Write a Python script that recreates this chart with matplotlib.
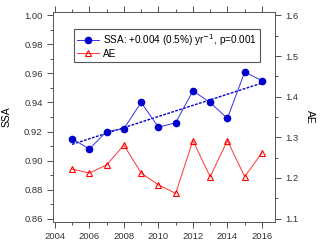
import numpy as np
import matplotlib.pyplot as plt
from matplotlib.ticker import MultipleLocator

years = [2005, 2006, 2007, 2008, 2009, 2010, 2011, 2012, 2013, 2014, 2015, 2016]
ssa = [0.915, 0.908, 0.920, 0.922, 0.940, 0.923, 0.926, 0.948, 0.940, 0.929, 0.961, 0.955]
ae = [1.222, 1.212, 1.232, 1.281, 1.212, 1.183, 1.162, 1.292, 1.203, 1.292, 1.203, 1.262]

plt.rcParams['font.family'] = ['Liberation Sans', 'DejaVu Sans']
plt.rcParams['font.size'] = 6.8

fig = plt.figure(figsize=(3.2, 2.45), dpi=100)
ax = fig.add_axes([0.166, 0.094, 0.693, 0.857])
ax2 = ax.twinx()

# trend line for SSA
slope, icpt = np.polyfit(years, ssa, 1)
fit_x = np.array([years[0], years[-1]])
ax.plot(fit_x, slope * fit_x + icpt, color='#0000cc', linestyle=(0, (2, 1)), lw=1.0)

l1, = ax.plot(years, ssa, color='#3333ee', lw=0.7, marker='o', ms=4.5,
              mfc='#0000cc', mec='#0000cc')
l2, = ax2.plot(years, ae, color='#ff3333', lw=0.7, marker='^', ms=5,
               mfc='none', mec='#ff0000', mew=0.8)

ax.set_xlim(2003.9, 2016.75)
ax.set_ylim(0.8577, 1.0023)
ax2.set_ylim(1.0917, 1.6083)

ax.xaxis.set_major_locator(MultipleLocator(2))
ax.xaxis.set_minor_locator(MultipleLocator(1))
ax.yaxis.set_major_locator(MultipleLocator(0.02))
ax.yaxis.set_minor_locator(MultipleLocator(0.01))
ax2.yaxis.set_major_locator(MultipleLocator(0.1))
ax2.yaxis.set_minor_locator(MultipleLocator(0.05))
ax.yaxis.set_major_formatter(plt.FormatStrFormatter('%.2f'))
ax2.yaxis.set_major_formatter(plt.FormatStrFormatter('%.1f'))

ax.tick_params(which='both', direction='out', top=True, width=0.6, colors='#333333')
ax.tick_params(which='major', length=4)
ax.tick_params(which='minor', length=2)
ax2.tick_params(which='both', direction='out', width=0.6, colors='#333333')
ax2.tick_params(which='major', length=4)
ax2.tick_params(which='minor', length=2)
for a in (ax, ax2):
    for s in a.spines.values():
        s.set_linewidth(0.6)
        s.set_color('#555555')

ax.set_ylabel('SSA', fontsize=7.5, labelpad=9)
ax2.set_ylabel('AE', fontsize=7.5, rotation=270, labelpad=12)

leg = ax.legend([l1, l2], ['SSA: +0.004 (0.5%) yr$^{-1}$, p=0.001', 'AE'],
                loc='upper left', bbox_to_anchor=(0.095, 0.919), borderaxespad=0,
                fancybox=False, edgecolor='#555555', framealpha=1, handlelength=2.2,
                borderpad=0.3, labelspacing=0.1, handletextpad=0.4,
                fontsize=7.2)
leg.get_frame().set_linewidth(0.8)

fig.savefig('out.png', dpi=100)
